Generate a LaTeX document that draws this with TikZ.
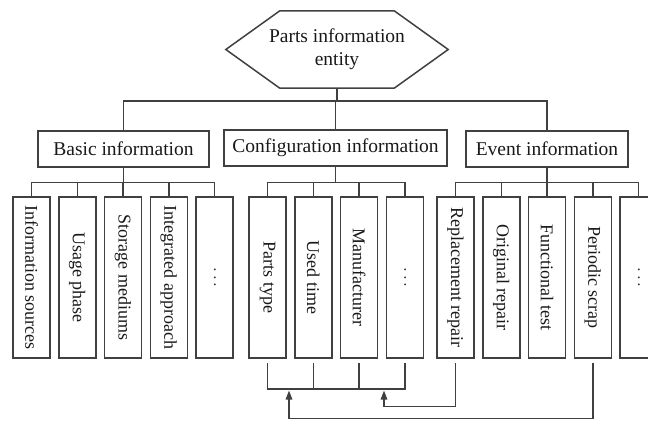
\documentclass[tikz,border=0pt]{standalone}
\usepackage{fontspec}
\setmainfont{Liberation Serif}
\usetikzlibrary{arrows.meta}
\begin{document}
\tikzset{
  wire/.style={draw=black!75, line width=1.5pt},
  hexlabel/.style={inner sep=0pt, minimum width=222pt, minimum height=77pt, align=center,
    font=\fontsize{19.5}{23}\selectfont, text=black!90},
  headbox/.style={wire, rectangle, inner sep=0pt, minimum height=36pt,
    font=\fontsize{19.5}{23}\selectfont, text=black!90},
  leaf/.style={wire, rectangle, inner sep=0pt, minimum width=37pt, minimum height=161pt,
    font=\fontsize{18}{20}\selectfont, text=black!90},
  feedback/.style={wire, -{Triangle[width=6.5pt,length=9pt]}},
}
\begin{tikzpicture}[x=1pt,y=-1pt]
  \useasboundingbox (0,0) rectangle (648,421);
  \clip (0,0) rectangle (648,421);

  % root entity (hexagon)
  \node[hexlabel] (ent) at (337,49.5) {Parts information\\entity};
  \draw[wire] ([xshift=54pt]ent.north west) -- ([xshift=-54pt]ent.north east) -- (ent.east)
    -- ([xshift=-54pt]ent.south east) -- ([xshift=54pt]ent.south west) -- (ent.west) -- cycle;

  % category boxes
  \node[headbox, minimum width=171pt] (basic) at (123.5,149) {Basic information};
  \node[headbox, minimum width=223pt] (conf)  at (335.5,148) {Configuration information};
  \node[headbox, minimum width=162pt] (event) at (547,149) {Event information};

  % top-level bus
  \coordinate (topbus) at (0,101);
  \draw[wire] (ent.south) -- (ent.south |- topbus);
  \draw[wire] (basic.north) |- (event.north |- topbus) -- (event.north);
  \draw[wire] (conf.north) -- (conf.north |- topbus);

  % leaves
  \foreach \i/\t in {1/{Information sources},2/{Usage phase},3/{Storage mediums},
                     4/{Integrated approach},5/{$\cdots$}}
    \node[leaf] (b\i) at ({31.5+45.75*(\i-1)},277.5) {\rotatebox{-90}{\t}};
  \foreach \i/\t in {1/{Parts type},2/{Used time},3/{Manufacturer},4/{$\cdots$}}
    \node[leaf] (c\i) at ({267.5+45.75*(\i-1)},277.5) {\rotatebox{-90}{\t}};
  \foreach \i/\t in {1/{Replacement repair},2/{Original repair},3/{Functional test},
                     4/{Periodic scrap}}
    \node[leaf] (e\i) at ({455.5+45.75*(\i-1)},277.5) {\rotatebox{-90}{\t}};
  % last event box runs past the right edge; its dots sit at the box centre
  \node[leaf] (e5) at (638.5,277.5) {};
  \node[font=\fontsize{18}{20}\selectfont, text=black!90, inner sep=0pt] (e5dots)
    at (e5.center) {\rotatebox{-90}{$\cdots$}};

  % branch buses
  \coordinate (lbus) at (0,182.5);
  \draw[wire] (basic.south) -- (basic.south |- lbus);
  \draw[wire] (b1.north) |- (b5.north |- lbus) -- (b5.north);
  \foreach \i in {2,3,4} \draw[wire] (b\i.north) -- (b\i.north |- lbus);

  \draw[wire] (conf.south) -- (conf.south |- lbus);
  \draw[wire] (c1.north) |- (c4.north |- lbus) -- (c4.north);
  \foreach \i in {2,3} \draw[wire] (c\i.north) -- (c\i.north |- lbus);

  \draw[wire] (event.south) -- (event.south |- lbus);
  \draw[wire] (e1.north) |- (e5.north |- lbus) -- (e5.north);
  \foreach \i in {2,3,4} \draw[wire] (e\i.north) -- (e\i.north |- lbus);

  % configuration collector below
  \coordinate (cbus) at (0,389);
  \draw[wire] ([yshift=-4pt]c1.south) |- (c4.south |- cbus) -- ([yshift=-4pt]c4.south);
  \foreach \i in {2,3} \draw[wire] ([yshift=-4pt]c\i.south) -- (c\i.south |- cbus);

  % event feedback arrows
  \coordinate (hit1) at (289,390.5);
  \coordinate (hit2) at (384,390.5);
  \coordinate (low1) at (0,418.5);
  \coordinate (low2) at (0,406.5);
  \draw[feedback] ([yshift=-4pt]e4.south) -- (e4.south |- low1) -| (hit1);
  \draw[feedback] ([yshift=-4pt]e1.south) -- (e1.south |- low2) -| (hit2);
\end{tikzpicture}
\end{document}
